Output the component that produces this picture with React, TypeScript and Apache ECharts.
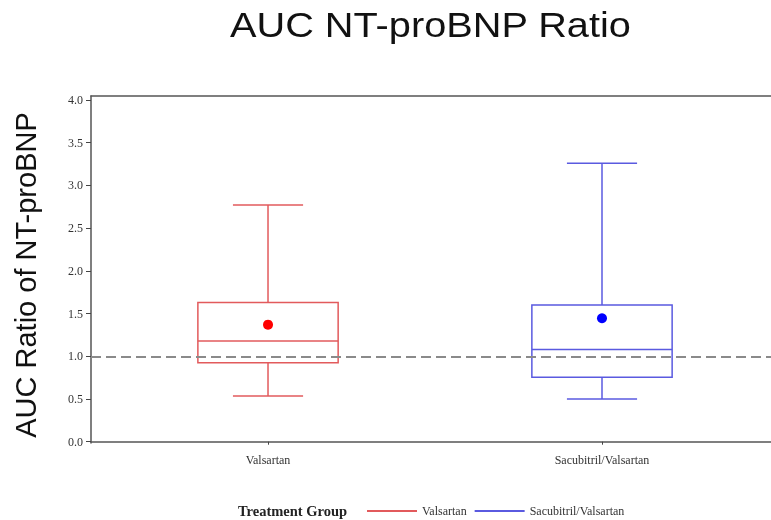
import React, { useEffect, useRef } from "react";
import * as echarts from "echarts";

const categories = ["Valsartan", "Sacubitril/Valsartan"];
const positions = [1, 2];
const mins = [0.535, 0.5];
const q1s = [0.925, 0.755];
const medians = [1.18, 1.08];
const q3s = [1.63, 1.6];
const maxs = [2.77, 3.26];
const means = [1.37, 1.445];
const yTicks = [0, 0.5, 1, 1.5, 2, 2.5, 3, 3.5, 4];
const referenceValue = 1.0;

const boxColors = ["#e25a5c", "#5a5ae0"];
const dotColors = ["#ff0000", "#0000ff"];
const BOX_HALF = 0.21;
const CAP_HALF = 0.105;
const SERIF = "'Liberation Serif', 'Times New Roman', serif";
const SANS = "'Liberation Sans', Arial, sans-serif";
const X_MIN = 0.47;
const X_MAX = 2.506;

export default function App() {
  const ref = useRef<HTMLDivElement>(null);
  useEffect(() => {
    if (!ref.current) return;
    const chart = echarts.init(ref.current, undefined, { renderer: "svg" });

    const makeSeries = (i: number) => ({
      type: "custom",
      name: categories[i],
      xAxisIndex: 0,
      itemStyle: { color: boxColors[i] },
      data: [[positions[i], mins[i], q1s[i], medians[i], q3s[i], maxs[i], means[i]]],
      renderItem: (params: any, api: any) => {
        const x = api.value(0);
        const vMin = api.value(1);
        const vQ1 = api.value(2);
        const vMed = api.value(3);
        const vQ3 = api.value(4);
        const vMax = api.value(5);
        const vMean = api.value(6);
        const pL = api.coord([x - BOX_HALF, vQ3]);
        const pR = api.coord([x + BOX_HALF, vQ1]);
        const cMin = api.coord([x, vMin]);
        const cMax = api.coord([x, vMax]);
        const cQ1 = api.coord([x, vQ1]);
        const cQ3 = api.coord([x, vQ3]);
        const cMed = api.coord([x, vMed]);
        const cMean = api.coord([x, vMean]);
        const capL = api.coord([x - CAP_HALF, vMin])[0];
        const capR = api.coord([x + CAP_HALF, vMin])[0];
        const ls = { stroke: boxColors[i], lineWidth: 1.5, fill: null };
        return {
          type: "group",
          children: [
            { type: "rect", shape: { x: pL[0], y: pL[1], width: pR[0] - pL[0], height: pR[1] - pL[1] }, style: { stroke: boxColors[i], lineWidth: 1.5, fill: "none" } },
            { type: "line", shape: { x1: pL[0], y1: cMed[1], x2: pR[0], y2: cMed[1] }, style: ls },
            { type: "line", shape: { x1: cQ3[0], y1: cQ3[1], x2: cMax[0], y2: cMax[1] }, style: ls },
            { type: "line", shape: { x1: cQ1[0], y1: cQ1[1], x2: cMin[0], y2: cMin[1] }, style: ls },
            { type: "line", shape: { x1: capL, y1: cMax[1], x2: capR, y2: cMax[1] }, style: ls },
            { type: "line", shape: { x1: capL, y1: cMin[1], x2: capR, y2: cMin[1] }, style: ls },
            { type: "circle", shape: { cx: cMean[0], cy: cMean[1], r: 5 }, style: { fill: dotColors[i] } },
          ],
        };
      },
    });

    chart.setOption({
      animation: false,
      grid: { left: 91, top: 96, right: 0, height: 347 },
      xAxis: [
        {
          type: "value",
          min: X_MIN,
          max: X_MAX,
          splitLine: { show: false },
          axisLine: { show: true, lineStyle: { color: "#555", width: 1.5 } },
          axisTick: { show: true, customValues: positions, length: 3, lineStyle: { color: "#444" } },
          axisLabel: {
            customValues: positions,
            formatter: (v: number) => categories[Math.round(v) - 1] ?? "",
            fontFamily: SERIF,
            fontSize: 12,
            color: "#333",
            margin: 11,
          },
        },
        {
          type: "value",
          position: "top",
          min: X_MIN,
          max: X_MAX,
          splitLine: { show: false },
          axisLine: { show: true, lineStyle: { color: "#555", width: 1.5 } },
          axisTick: { show: false },
          axisLabel: { show: false },
        },
      ],
      yAxis: {
        type: "value",
        min: -0.015,
        max: 4.047,
        splitLine: { show: false },
        axisLine: { show: true, lineStyle: { color: "#555", width: 1.5 } },
        axisTick: { show: true, customValues: yTicks, length: 5, lineStyle: { color: "#444" } },
        axisLabel: {
          customValues: yTicks,
          formatter: (v: number) => v.toFixed(1),
          fontFamily: SERIF,
          fontSize: 12,
          color: "#333",
          margin: 8,
        },
      },
      legend: {
        data: categories,
        left: 367,
        top: 505,
        padding: 0,
        icon: "rect",
        itemWidth: 50,
        itemHeight: 2,
        itemGap: 8,
        textStyle: { fontFamily: SERIF, fontSize: 12, color: "#333" },
      },
      graphic: [
        { type: "text", x: 230, y: 25, scaleX: 1.135, style: { text: "AUC NT-proBNP Ratio", font: `35px ${SANS}`, fill: "#111", textAlign: "left", textVerticalAlign: "middle" } },
        { type: "text", x: 26, y: 275, rotation: Math.PI / 2, style: { text: "AUC Ratio of NT-proBNP", font: `29px ${SANS}`, fill: "#111", textAlign: "center", textVerticalAlign: "middle" } },
        { type: "text", left: 238, top: 503, style: { text: "Treatment Group", font: `bold 14.5px ${SERIF}`, fill: "#222" } },
      ],
      series: [
        makeSeries(0),
        makeSeries(1),
        {
          type: "line",
          name: "ref",
          data: [],
          markLine: {
            silent: true,
            symbol: "none",
            label: { show: false },
            lineStyle: { color: "#8a8a8a", width: 2, type: [10, 5] },
            data: [{ yAxis: referenceValue }],
          },
        },
      ],
    });
    return () => chart.dispose();
  }, []);
  return <div ref={ref} style={{ position: "fixed", left: 0, top: 0, width: 771, height: 520 }} />;
}
